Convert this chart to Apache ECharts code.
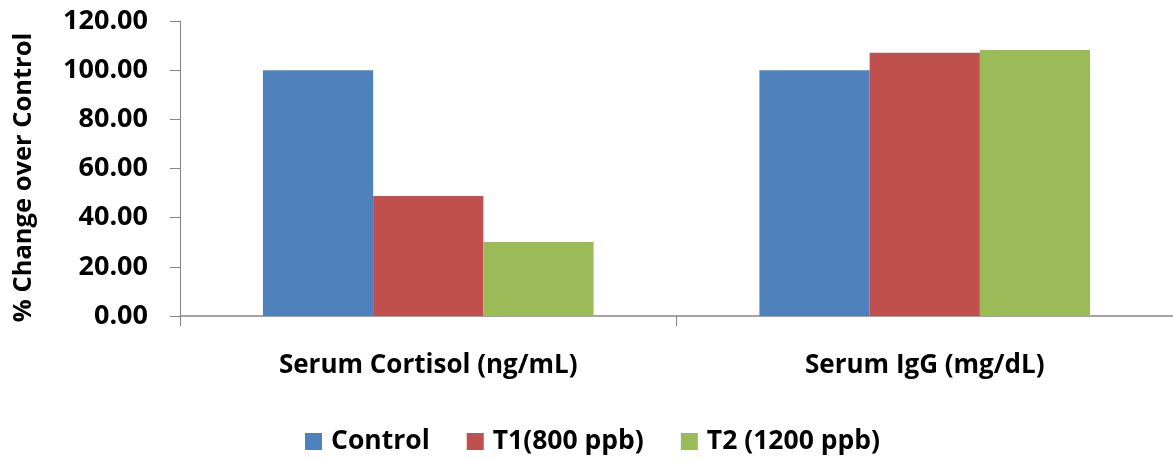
<!DOCTYPE html>
<html><head><meta charset="utf-8">
<script src="https://cdn.jsdelivr.net/npm/echarts@6/dist/echarts.min.js"></script>
<style>html,body{margin:0;padding:0;background:#fff}#c{width:1173px;height:460px}</style>
</head><body><div id="c"></div>
<script>
const categories = ["Serum Cortisol (ng/mL)", "Serum IgG (mg/dL)"];
const seriesNames = ["Control", "T1(800 ppb)", "T2 (1200 ppb)"];
const controlValues = [100, 100];
const t1Values = [48.8, 107.1];
const t2Values = [30.1, 108.2];
const yTicks = [0, 20, 40, 60, 80, 100, 120];
const colors = ["#4F81BD", "#C0504D", "#9BBB59"];

const font = "Open Sans";
const chart = echarts.init(document.getElementById('c'));
const allValues = [controlValues, t1Values, t2Values];
chart.setOption({
  animation: false,
  color: colors,
  grid: {left: 180, top: 21, width: 1002, height: 295, containLabel: false},
  legend: {
    left: 300, top: 423,
    itemWidth: 17, itemHeight: 17, itemGap: 37,
    icon: 'rect',
    textStyle: {fontFamily: font, fontWeight: 'bold', fontSize: 26.5, color: '#000', padding: [0, 0, 0, 4]},
    data: seriesNames
  },
  xAxis: {
    type: 'category', data: categories,
    axisLine: {lineStyle: {color: '#868686', width: 1.5}},
    axisTick: {show: true, length: 10, lineStyle: {color: '#868686'}},
    axisLabel: {margin: 37, fontFamily: font, fontWeight: 'bold', fontSize: 26, color: '#000'}
  },
  yAxis: {
    type: 'value', min: yTicks[0], max: yTicks[yTicks.length-1], interval: 20,
    name: '% Change over Control', nameLocation: 'middle', nameRotate: 90, nameGap: 143,
    nameTextStyle: {fontFamily: font, fontWeight: 'bold', fontSize: 25.5, color: '#000', padding: [0, 18, 0, 0]},
    axisLine: {show: true, lineStyle: {color: '#868686'}},
    axisTick: {show: true, length: 10, lineStyle: {color: '#868686'}},
    splitLine: {show: false},
    axisLabel: {margin: 32, fontFamily: font, fontWeight: 'bold', fontSize: 27, color: '#000',
      formatter: v => v.toFixed(2)}
  },
  series: seriesNames.map((n, i) => ({
    name: n, type: 'bar', data: allValues[i],
    barGap: '0%', barCategoryGap: '33.4%',
    itemStyle: {color: colors[i]}
  }))
});
</script></body></html>
